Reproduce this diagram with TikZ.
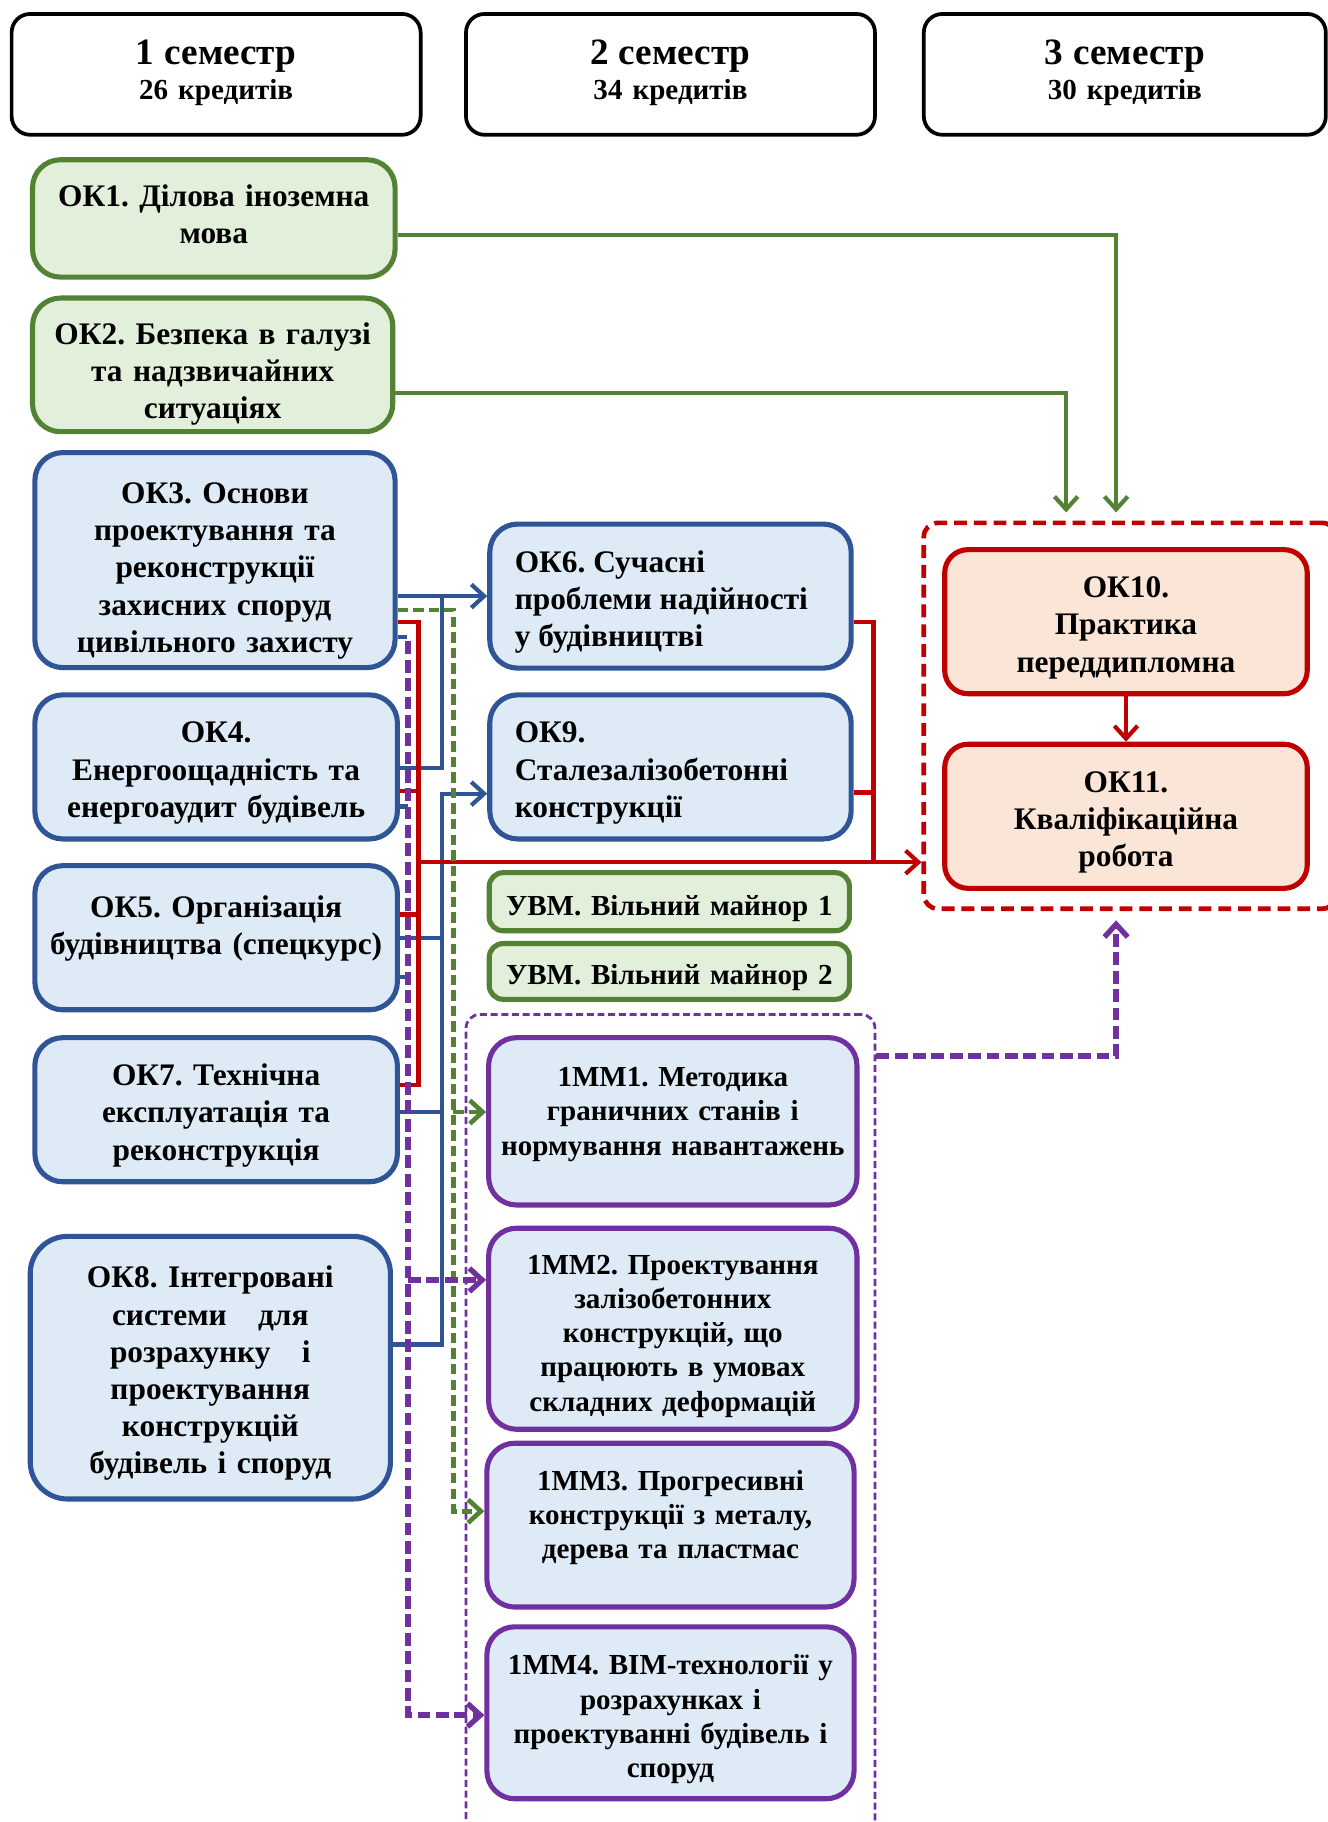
\documentclass[tikz,border=0pt]{standalone}
\usepackage{fontspec}
\setmainfont{Liberation Serif}
\usetikzlibrary{positioning,arrows.meta,calc}
\definecolor{okgreen}{RGB}{84,130,53}
\definecolor{okgreenbg}{RGB}{226,239,218}
\definecolor{okblue}{RGB}{47,85,151}
\definecolor{okbluebg}{RGB}{222,235,247}
\definecolor{okred}{RGB}{192,0,0}
\definecolor{okredbg}{RGB}{251,229,214}
\definecolor{okviolet}{RGB}{112,48,160}
\newlength{\bw}
\setlength{\bw}{155pt}
\newlength{\bh}
\setlength{\bh}{62pt}
\frenchspacing
\newcommand{\semhead}[2]{{\fontsize{16}{17}\selectfont #1}\\{\fontsize{12.5}{14}\selectfont #2\rule[-8pt]{0pt}{0pt}}}
\tikzset{
  textdown/.style={execute at begin node={\rule{0pt}{#1}}},
  course/.style ={draw,line width=2.2pt,rounded corners=12pt,
                  minimum width=\bw,minimum height=\bh,align=center,text width=150pt,inner sep=2pt,
                  font=\fontsize{13.5}{16}\selectfont\bfseries\frenchspacing,textdown=14.3pt},
  sembox/.style ={course,draw=black,fill=white,rounded corners=8pt,line width=1.6pt,textdown=0pt,
                  minimum width=176pt,minimum height=52pt,font=\bfseries\fontsize{13}{15}\selectfont},
  grbox/.style  ={course,draw=okgreen,fill=okgreenbg},
  blbox/.style  ={course,draw=okblue,fill=okbluebg},
  vibox/.style  ={course,draw=okviolet,fill=okbluebg,font=\fontsize{12.5}{14.75}\selectfont\bfseries\frenchspacing,
                  text width=154pt,textdown=12.6pt},
  orbox/.style  ={course,draw=okred,fill=okredbg,rounded corners=10pt},
  minor/.style  ={grbox,rounded corners=6pt,text width=155pt,inner xsep=0pt,textdown=12.5pt,
                  font=\fontsize{12.5}{14}\selectfont\bfseries\frenchspacing},
  group/.style  ={draw,rounded corners=6pt,minimum width=175pt,inner sep=0pt},
  tip/.style    ={-{Straight Barb[length=5.5pt,width=10pt]}},
  grline/.style ={draw=okgreen,line width=1.8pt},
  blline/.style ={draw=okblue,line width=1.8pt},
  rdline/.style ={draw=okred,line width=1.8pt},
  grdash/.style ={draw=okgreen,line width=2pt,dash pattern=on 4.5pt off 2.2pt},
  vidash/.style ={draw=okviolet,line width=2.3pt,dash pattern=on 5.5pt off 2.4pt}
}

\begin{document}
\begin{tikzpicture}[x=0.5pt,y=-0.5pt]
\useasboundingbox (0,0) rectangle (1142,1568);

\node[sembox] (sem1) at (186,64) {\semhead{1 семестр}{26 кредитів}};
\node[sembox] (sem2) at ($(sem1)+(391,0)$) {\semhead{2 семестр}{34 кредитів}};
\node[sembox,minimum width=173pt] (sem3) at ($(sem2)+(391,0)$) {\semhead{3 семестр}{30 кредитів}};

% containers
\node[group,draw=okred,line width=2pt,dash pattern=on 5.5pt off 3pt,minimum width=177.5pt,minimum height=166pt]
      (grp3) at (972.5,616) {};
\node[group,draw=okviolet,line width=1.2pt,dash pattern=on 3pt off 1.6pt,minimum width=176pt,minimum height=358.5pt]
      (mmgrp) at (577,1231.5) {};

% 1 semester
\node[grbox,minimum width=156pt,minimum height=50.5pt,textdown=0pt] (ok1) at (184,188)
      {ОК1. Ділова іноземна\\мова\rule[-9pt]{0pt}{0pt}};
\node[grbox,minimum height=57.5pt,textdown=17.3pt] (ok2) at ($(ok1)+(-1,126)$) {ОК2. Безпека в галузі\\та надзвичайних\\ситуаціях};
\node[blbox,minimum height=92.5pt,textdown=18.3pt] (ok3) at ($(ok2)+(2,168)$)
      {ОК3. Основи\\проектування та\\реконструкції\\захисних споруд\\цивільного захисту};
\node[blbox,minimum width=156pt] (ok4) at ($(ok3)+(1,178)$) {ОК4.\\Енергоощадність та\\енергоаудит будівель};
\node[blbox,minimum width=156pt,textdown=9pt] (ok5) at ($(ok4)+(0,147)$) {ОК5. Організація\\будівництва (спецкурс)\\\mbox{}};
\node[blbox,minimum width=156pt] (ok7) at ($(ok5)+(0,148)$) {ОК7. Технічна\\експлуатація та\\реконструкція};
\node[blbox,minimum height=113pt,rounded corners=16pt] (ok8) at ($(ok7)+(-5,222)$)
      {ОК8. Інтегровані\\системи\ \ \ для\\розрахунку\ \ \ і\\проектування\\конструкцій\\будівель і споруд};

% 2 semester
\node[blbox,minimum width=155.5pt,align=flush left,text width=134pt] (ok6) at (577,513)
      {ОК6. Сучасні\\проблеми надійності\\у будівництві};
\node[blbox,minimum width=155.5pt,align=flush left,text width=134pt] (ok9) at ($(ok6)+(0,147)$)
      {ОК9.\\Сталезалізобетонні\\конструкції};
\node[minor,minimum height=25pt] (uvm1) at (576,776) {УВМ. Вільний майнор 1};
\node[minor,minimum height=24pt] (uvm2) at ($(uvm1)+(0,60)$) {УВМ. Вільний майнор 2};
\node[vibox,minimum width=158.5pt,minimum height=72pt,textdown=9.6pt] (mm1) at (579,965)
      {1ММ1. Методика\\граничних станів і\\нормування навантажень\\\mbox{}};
\node[vibox,minimum width=158.5pt,minimum height=86.5pt,textdown=14.6pt] (mm2) at ($(mm1)+(0,178.5)$)
      {1ММ2. Проектування\\залізобетонних\\конструкцій, що\\працюють в умовах\\складних деформацій};
\node[vibox,minimum width=156pt,minimum height=70.5pt,textdown=10.6pt] (mm3) at ($(mm2)+(-2,169)$)
      {1ММ3. Прогресивні\\конструкції з металу,\\дерева та пластмас\\\mbox{}};
\node[vibox,minimum width=156pt,minimum height=74pt,textdown=13.6pt] (mm4) at ($(mm3)+(0,161.5)$)
      {1ММ4. BIM-технології у\\розрахунках і\\проектуванні будівель і\\споруд};

% 3 semester
\node[orbox,minimum width=156pt] (ok10) at (969,535) {ОК10.\\Практика\\переддипломна};
\node[orbox,minimum width=156pt] (ok11) at ($(ok10)+(0,167.5)$) {ОК11.\\Кваліфікаційна\\робота};

% bus lines
\coordinate (px) at ($(ok3.east)+(9,0)$);
\coordinate (rx) at ($(ok3.east)+(18,0)$);
\coordinate (bx) at ($(ok3.east)+(38,0)$);
\coordinate (gx) at ($(ok3.east)+(48,0)$);
\coordinate (rx2) at ($(ok6.east)+(17,0)$);

% blue
\draw[blline,tip] (ok3.east |- ok6.west) -- (ok6.west);
\draw[blline] ($(ok4.east)+(0,1)$) -| (bx |- ok6.west);
\coordinate (b9) at ($(ok9.west)+(0,23)$);
\draw[blline,tip] ($(ok8.east)+(0,-20)$) -| (bx |- b9) -- (b9);
\draw[blline] (ok5.east) -- (bx |- ok5.east);
\coordinate (b7) at ($(ok7.east)+(0,2)$);
\draw[blline] (b7) -- (b7 -| bx);
\draw[blline] ($(ok3.east)+(0,66)$) -- ++(8,0);
\draw[blline] ($(ok4.east)+(0,34)$) -- ++(7,0);
\draw[blline] ($(ok5.east)+(0,34)$) -- ++(7,0);

% red
\coordinate (r3) at ($(ok3.east)+(0,53)$);
\coordinate (r4) at ($(ok4.east)+(0,21)$);
\coordinate (r5) at ($(ok5.east)+(0,-20)$);
\coordinate (r7) at ($(ok7.east)+(0,-21)$);
\coordinate (rin) at ($(grp3.west)+(0,126)$);
\draw[rdline] (r3) -- (r3 -| rx) -- (r7 -| rx) -- (r7);
\draw[rdline] (r4) -- (r4 -| rx);
\draw[rdline] (r5) -- (r5 -| rx);
\draw[rdline,tip] (rin -| rx) -- (rin);
\coordinate (r6) at ($(ok6.east)+(0,22)$);
\coordinate (r9) at ($(ok9.east)+(0,22)$);
\draw[rdline] (r6) -- (r6 -| rx2) -- (rin -| rx2);
\draw[rdline] (r9) -- (r9 -| rx2);
\draw[rdline,tip] (ok10) -- (ok11);

% green
\draw[grline,tip] ($(ok1.east)+(0,14)$) -| ($(grp3.north)+(-12,-7)$);
\draw[grline,tip] ($(ok2.east)+(0,24)$) -| ($(grp3.north)+(-55,-7)$);
\coordinate (gd) at ($(ok3.east)+(0,43)$);
\draw[grdash,tip] (gd) -- (gd -| gx) |- ($(mm3.west)+(0,-12)$);
\coordinate (g1) at ($(mm1.west)+(0,-8)$);
\draw[grdash,tip] (g1 -| gx) -- (g1);

% violet
\draw[vidash,tip] ($(ok3.east)+(9,70)$) |- ($(mm4.west)+(0,2)$);
\coordinate (p2) at ($(mm2.west)+(0,-42)$);
\draw[vidash,tip] (p2 -| px) -- (p2);
\draw[vidash,tip] ($(mmgrp.north east)+(0,37)$) -| ($(grp3.south)+(-12,8)$);

\end{tikzpicture}
\end{document}
